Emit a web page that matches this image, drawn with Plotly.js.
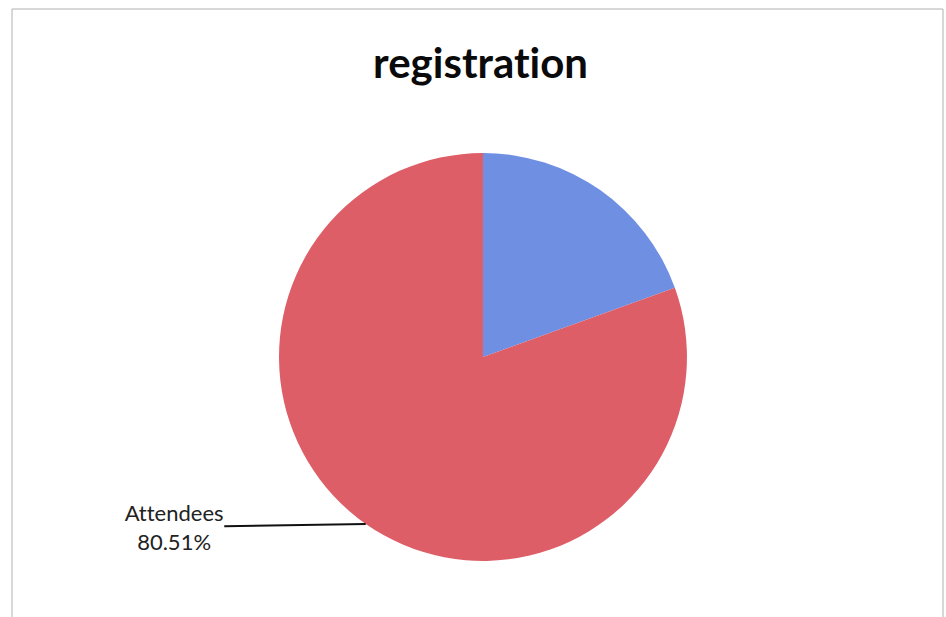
<!DOCTYPE html>
<html>
<head>
<meta charset="utf-8">
<script src="https://cdn.plot.ly/plotly-3.0.1.min.js"></script>
<style>
html,body{margin:0;padding:0;background:#fff;}
#chart{width:946px;height:617px;}
#chart text{font-variant-ligatures:none;font-feature-settings:"liga" 0;}
</style>
</head>
<body>
<div id="chart"></div>
<script>
const labels = ["Non-attendees", "Attendees"];
const values = [19.49, 80.51];
const colors = ["#6f8fe2", "#de5e68"];
const titleText = "registration";

const W = 946, H = 617;
const dom = {x: [0.2949, 0.7262], y: [0.0908, 0.752]};

// leader line target: mid-angle of the Attendees slice on the pie rim
const total = values.reduce((a, b) => a + b, 0);
const idx = 1;
const before = values.slice(0, idx).reduce((a, b) => a + b, 0);
const mid = (before + values[idx] / 2) / total * 2 * Math.PI;
const cx = (dom.x[0] + dom.x[1]) / 2, cy = (dom.y[0] + dom.y[1]) / 2;
const rpx = Math.min((dom.x[1] - dom.x[0]) * W, (dom.y[1] - dom.y[0]) * H) / 2;
const tx = cx + rpx * Math.sin(mid) / W;
const ty = cy + rpx * Math.cos(mid) / H;
const pct = (values[idx] / total * 100).toFixed(2) + "%";

const data = [{
  type: "pie",
  labels: labels,
  values: values,
  sort: false,
  direction: "clockwise",
  rotation: 0,
  marker: {colors: colors, line: {width: 0}},
  textinfo: "none",
  hoverinfo: "label+percent",
  domain: dom,
  showlegend: false
}];

const layout = {
  width: W, height: H,
  margin: {l: 0, r: 0, t: 0, b: 0},
  paper_bgcolor: "#ffffff",
  font: {family: "Lato, 'Open Sans', sans-serif", color: "#222"},
  title: {
    text: "<b>" + titleText + "</b>",
    font: {family: "Lato, sans-serif", size: 42, color: "#0a0a0a"},
    x: 0.508, xanchor: "center",
    y: 0.898, yanchor: "middle"
  },
  shapes: [{
    type: "rect", xref: "paper", yref: "paper",
    x0: 12 / W, x1: 943 / W, y0: -0.02, y1: 1 - 9 / H,
    line: {color: "#b0b0b0", width: 1}
  }],
  annotations: [{
    xref: "paper", yref: "paper",
    x: tx, y: ty,
    text: labels[idx] + "<br>" + pct,
    showarrow: true, arrowhead: 0, arrowwidth: 2, arrowcolor: "#111",
    ax: -192, ay: 3,
    font: {family: "Lato, sans-serif", size: 22, color: "#222"},
    align: "center"
  }]
};

Plotly.newPlot("chart", data, layout, {displayModeBar: false, staticPlot: true});
</script>
</body>
</html>
